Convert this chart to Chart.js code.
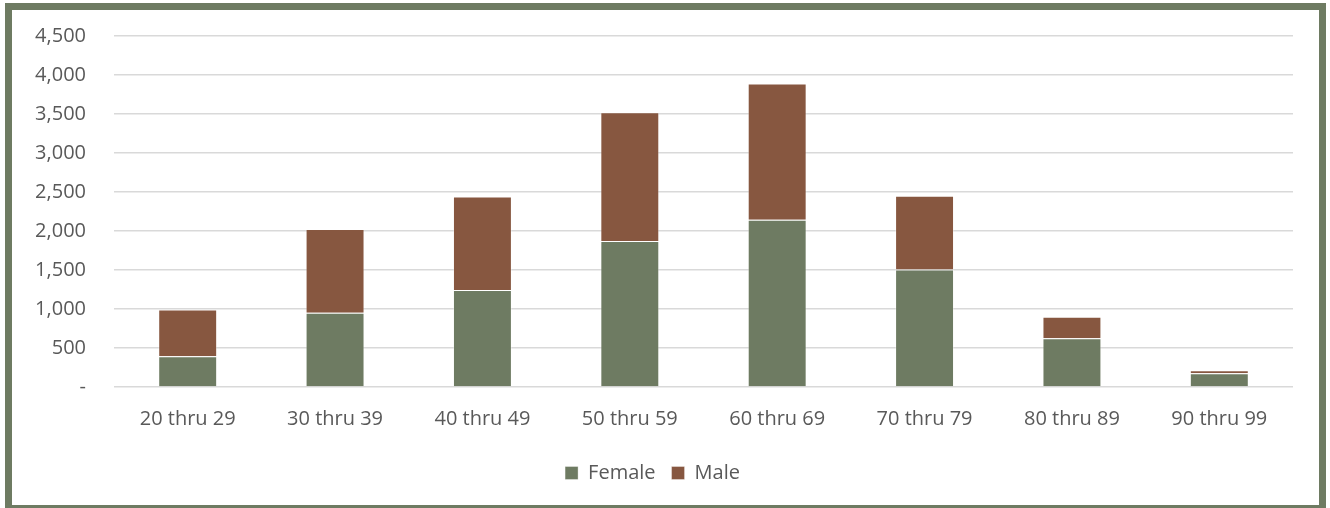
<!DOCTYPE html>
<html>
<head>
<meta charset="utf-8">
<script src="https://cdn.jsdelivr.net/npm/chart.js@4/dist/chart.umd.min.js"></script>
<style>
  html, body { margin: 0; padding: 0; background: #ffffff; width: 1330px; height: 508px; overflow: hidden; }
  #frame {
    position: absolute; left: 5px; top: 3px;
    width: 1307px; height: 495px;
    border: 7px solid #6E7B62;
    background: #ffffff;
  }
  #frame canvas { display: block; }
</style>
</head>
<body>
<div id="frame"><canvas id="chart" width="1307" height="495"></canvas></div>
<script>
// Age bands and counts per sex
const categories = ['20 thru 29', '30 thru 39', '40 thru 49', '50 thru 59', '60 thru 69', '70 thru 79', '80 thru 89', '90 thru 99'];
const female = [395, 951, 1243, 1873, 2143, 1508, 626, 176];
const male = [600, 1076, 1200, 1650, 1749, 944, 274, 39];
const seriesNames = ['Female', 'Male'];
const yTicks = [0, 500, 1000, 1500, 2000, 2500, 3000, 3500, 4000, 4500];

const FONT = '"Open Sans", "Liberation Sans", sans-serif';
const TEXT = '#595959';

new Chart(document.getElementById('chart'), {
  type: 'bar',
  data: {
    labels: categories,
    datasets: [
      { label: seriesNames[0], data: female, backgroundColor: '#6E7B62', borderColor: 'rgba(255,255,255,0.35)', borderWidth: 1, barPercentage: 0.4, categoryPercentage: 1 },
      { label: seriesNames[1], data: male, backgroundColor: '#875740', borderColor: 'rgba(255,255,255,0.35)', borderWidth: 1, barPercentage: 0.4, categoryPercentage: 1 }
    ]
  },
  options: {
    responsive: false,
    animation: false,
    layout: { padding: { top: 26, right: 26, left: 0, bottom: 12 } },
    plugins: {
      legend: {
        position: 'bottom',
        labels: { font: { family: FONT, size: 20 }, color: TEXT, boxWidth: 13, boxHeight: 13, padding: 16 }
      },
      tooltip: { enabled: false }
    },
    scales: {
      x: {
        stacked: true,
        grid: { display: false, drawTicks: false },
        border: { display: false },
        ticks: { font: { family: FONT, size: 20 }, color: TEXT, padding: 20 },
        afterFit: s => { s.height = 60; s.paddingLeft = 0; s.paddingRight = 0; }
      },
      y: {
        stacked: true,
        min: 0, max: 4500,
        afterBuildTicks: s => { s.ticks = yTicks.map(v => ({ value: v })); },
        grid: { color: '#D9D9D9', lineWidth: 1.5, drawTicks: false },
        border: { display: false },
        ticks: {
          font: { family: FONT, size: 20 }, color: TEXT, padding: 28,
          callback: v => v === 0 ? '-' : v.toLocaleString('en-US')
        },
        afterFit: s => { s.width = 102; s.paddingTop = 0; s.paddingBottom = 0; }
      }
    }
  }
});
</script>
</body>
</html>
